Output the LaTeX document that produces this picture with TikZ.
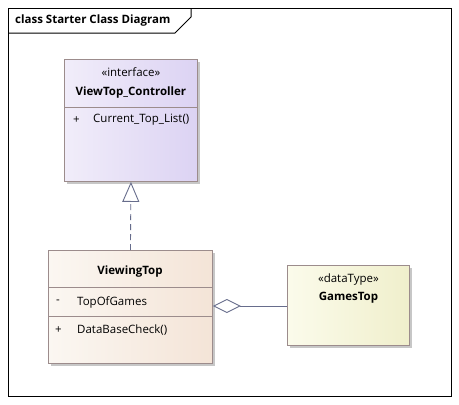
\documentclass[tikz,border=0pt]{standalone}
\usepackage{fontspec}
\setmainfont{Open Sans}
\usetikzlibrary{arrows.meta,positioning,shadows}

\definecolor{boxline}{HTML}{9C8C8C}
\definecolor{linkline}{HTML}{676D8C}
\definecolor{ifaceL}{HTML}{F1EDFA}
\definecolor{ifaceR}{HTML}{DCD3F3}
\definecolor{classL}{HTML}{FBF7F2}
\definecolor{classR}{HTML}{F4E4D7}
\definecolor{dataL}{HTML}{FBFBEB}
\definecolor{dataR}{HTML}{F0EFCC}

\tikzset{
  umlbox/.style={draw=boxline, line width=0.9pt, inner sep=0pt, anchor=north west,
    drop shadow={shadow xshift=3pt, shadow yshift=-3pt, fill=black!22, opacity=1}},
  stereo/.style={font=\fontsize{11.5}{13}\selectfont, inner sep=0pt, text height=8.5pt, text depth=2.5pt},
  boxname/.style={font=\fontsize{11.5}{13}\selectfont\bfseries, inner sep=0pt, text height=8.5pt, text depth=2.5pt},
  member/.style={font=\fontsize{11.5}{13}\selectfont, inner sep=0pt, anchor=west},
  link/.style={draw=linkline, line width=0.9pt}
}

\begin{document}
\begin{tikzpicture}[x=1pt,y=-1pt]
\useasboundingbox (0,0) rectangle (459,405);
\fill[white] (0,0) rectangle (459,405);

% frame
\draw[line width=1pt] (8,8) rectangle (451,396);
\draw[line width=1pt] (8,33) -- (175,33) -- (191,17) -- (191,8);
\node[boxname, anchor=west] (title) at (15,20.5) {class Starter Class Diagram};

% interface
\node[umlbox, left color=ifaceL, right color=ifaceR, minimum width=133pt, minimum height=122pt] (ctrl) at (64,59) {};
\draw[draw=boxline, line width=0.9pt] (64,107) -- (197,107);
\node[stereo, below=8.5pt of ctrl.north] (ctrlst) {«interface»};
\node[boxname, below=7.5pt of ctrlst] (ctrlname) {ViewTop\_Controller};
\node[member] (ctrlvis) at (73,120) {+};
\node[member] (ctrlop) at (93,120) {Current\_Top\_List()};

% class
\node[umlbox, left color=classL, right color=classR, minimum width=164pt, minimum height=113pt] (vt) at (48,250) {};
\draw[draw=boxline, line width=0.9pt] (48,287) -- (212,287);
\draw[draw=boxline, line width=0.9pt] (48,316) -- (212,316);
\node[boxname] (vtname) at (130,271) {ViewingTop};
\node[member] (vtvis1) at (56,302) {-};
\node[member] (vtattr) at (77,302) {TopOfGames};
\node[member] (vtvis2) at (55,330) {+};
\node[member] (vtop) at (77,330) {DataBaseCheck()};

% datatype
\node[umlbox, left color=dataL, right color=dataR, minimum width=122pt, minimum height=80pt] (games) at (287,265) {};
\node[stereo, below=8.5pt of games.north] (gamesst) {«dataType»};
\node[boxname, below=7pt of gamesst] (gamesname) {GamesTop};

% links
\draw[link, dash pattern=on 6pt off 4pt, -{Triangle[open, fill=white, length=20pt, width=17pt]}] (vt.north) -- (ctrl.south);
\draw[link, -{Diamond[open, fill=white, length=28pt, width=14pt]}] (games.west |- 0,306) -- (vt.east |- 0,306);
\end{tikzpicture}
\end{document}
